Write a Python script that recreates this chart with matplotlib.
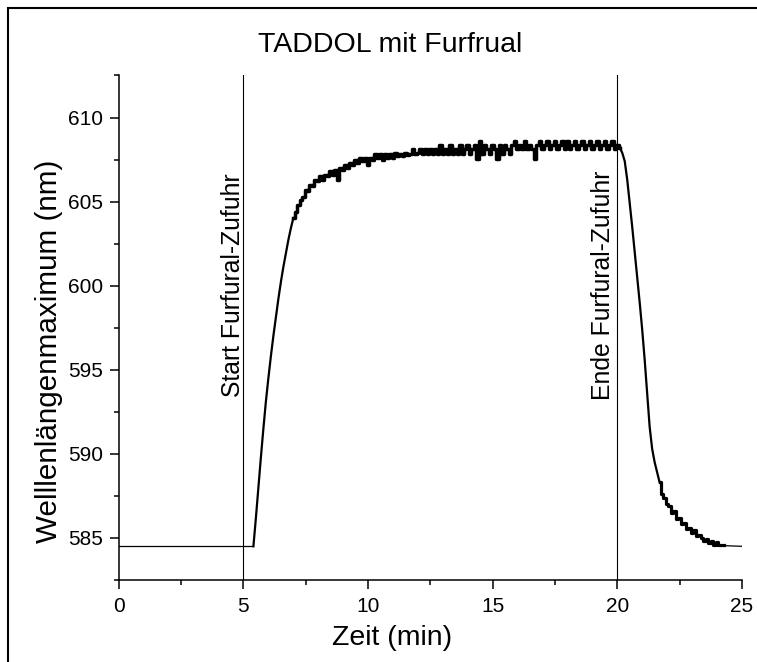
import matplotlib
matplotlib.use("Agg")
import matplotlib.pyplot as plt
from matplotlib.patches import Rectangle
from matplotlib.ticker import MultipleLocator
import numpy as np

plt.rcParams['font.family'] = ['Liberation Sans', 'DejaVu Sans']

# baseline before / after the measured trace (min, nm)
base_t = [0, 5.4]
base_wl = [584.5, 584.5]
end_t = [24.0, 25]
end_wl = [584.55, 584.5]

# measured wavelength maximum, one value every 0.1 min starting at 5.4 min
wl = [
    584.5, 586.2, 588.0, 589.8, 591.5, 593.1, 594.5, 595.8, 597.0, 598.1,   # 5.4
    599.2, 600.2, 601.1, 601.9, 602.7, 603.4, 604.0, 604.4, 604.8, 605.1,   # 6.4
    605.3, 605.7, 605.6, 606.0, 605.9, 606.3, 606.2, 606.5, 606.3, 606.6,   # 7.4
    606.5, 606.8, 606.6, 606.9, 606.3, 607.0, 606.9, 607.2, 607.0, 607.3,   # 8.4
    607.2, 607.5, 607.3, 607.6, 607.4, 607.6, 607.2, 607.6, 607.5, 607.8,   # 9.4
    607.6, 607.8, 607.5, 607.8, 607.6, 607.85, 607.6, 607.9, 607.7, 607.85, # 10.4
    607.7, 607.9, 607.75, 607.85, 608.1, 607.85, 607.9, 608.1, 607.85, 608.1, # 11.4
    607.85, 608.1, 607.85, 608.1, 607.85, 608.35, 607.85, 608.1, 607.85, 608.35, # 12.4
    607.85, 608.1, 607.85, 608.35, 607.85, 608.1, 608.35, 607.85, 608.1, 608.35, # 13.4
    607.55, 608.6, 607.85, 608.35, 608.1, 607.85, 608.35, 608.1, 607.55, 608.35, # 14.4
    607.85, 608.35, 608.1, 607.85, 608.35, 608.6, 608.1, 608.35, 608.1, 608.6,  # 15.4
    608.1, 608.35, 608.1, 607.55, 608.35, 608.6, 608.1, 608.35, 608.6, 608.1,   # 16.4
    608.35, 608.6, 608.1, 608.35, 608.6, 608.1, 608.6, 608.1, 608.35, 608.6,    # 17.4
    608.1, 608.35, 608.6, 608.1, 608.35, 608.6, 608.1, 608.35, 608.6, 608.1,    # 18.4
    608.35, 608.6, 608.1, 608.35, 608.6, 608.1, 608.35, 608.2, 607.9, 607.4,    # 19.4
    606.3, 604.9, 603.5, 602.0, 600.5, 599.0, 597.4, 595.6, 593.6, 591.6,       # 20.4
    590.3, 589.5, 588.9, 588.3, 587.6, 587.4, 587.0, 586.9, 586.5, 586.6,       # 21.4
    586.1, 586.2, 585.8, 585.9, 585.5, 585.6, 585.3, 585.45, 585.1, 585.2,      # 22.4
    585.0, 584.8, 584.95, 584.7, 584.8, 584.55, 584.75, 584.55, 584.6, 584.55,  # 23.4
]
t = 5.4 + np.arange(len(wl)) * 0.1

marker_t = [5, 20]
marker_txt = ['Start Furfural-Zufuhr', 'Ende Furfural-Zufuhr']
marker_dx = [0.06, -0.1]

fig = plt.figure(figsize=(7.57, 6.62), dpi=100)
ax = fig.add_axes([0.157, 0.124, 0.823, 0.762])

ax.plot(base_t, base_wl, color='black', lw=0.9)
ax.plot(end_t, end_wl, color='black', lw=0.9)
# smooth rise, noisy plateau (instrument steps), smooth fall, noisy tail
ax.plot(t[:17], wl[:17], color='black', lw=1.6)
ax.plot(t[16:148], wl[16:148], color='black', lw=2.5, drawstyle='steps-mid')
ax.plot(t[147:164], wl[147:164], color='black', lw=1.6)
ax.plot(t[163:], wl[163:], color='black', lw=2.3, drawstyle='steps-mid')

for xm, txt, dx in zip(marker_t, marker_txt, marker_dx):
    ax.axvline(xm, color='black', lw=0.8)
    ax.text(xm + dx, 600.0, txt, rotation=90, ha='right', va='center', fontsize=17.8)

ax.set_xlim(0, 25)
ax.set_ylim(582.5, 612.5)
ax.xaxis.set_major_locator(MultipleLocator(5))
ax.xaxis.set_minor_locator(MultipleLocator(2.5))
ax.yaxis.set_major_locator(MultipleLocator(5))
ax.yaxis.set_minor_locator(MultipleLocator(2.5))
ax.tick_params(which='major', direction='out', length=6.5, width=1.1, labelsize=15)
ax.tick_params(axis='x', which='major', pad=6)
ax.tick_params(axis='y', which='major', pad=5)
ax.tick_params(which='minor', direction='out', length=3.5, width=1.1)
ax.spines['top'].set_visible(False)
ax.spines['right'].set_visible(False)
ax.spines['left'].set_linewidth(1.1)
ax.spines['bottom'].set_linewidth(1.1)

ax.set_xlabel('Zeit (min)', fontsize=20.5)
ax.xaxis.set_label_coords(0.438, -0.09)
ax.set_ylabel('Welllenlängenmaximum (nm)', fontsize=21.3)
ax.yaxis.set_label_coords(-0.09, 0.453)
fig.text(0.515, 0.932, 'TADDOL mit Furfrual', ha='center', va='center', fontsize=20.5)

# frame around the whole picture
fig.patches.append(Rectangle((8 / 757, -0.05), 1.2, 1.05 - 8 / 662,
                             transform=fig.transFigure, fill=False,
                             edgecolor='black', lw=1.5))

fig.savefig('out.png', dpi=100)
